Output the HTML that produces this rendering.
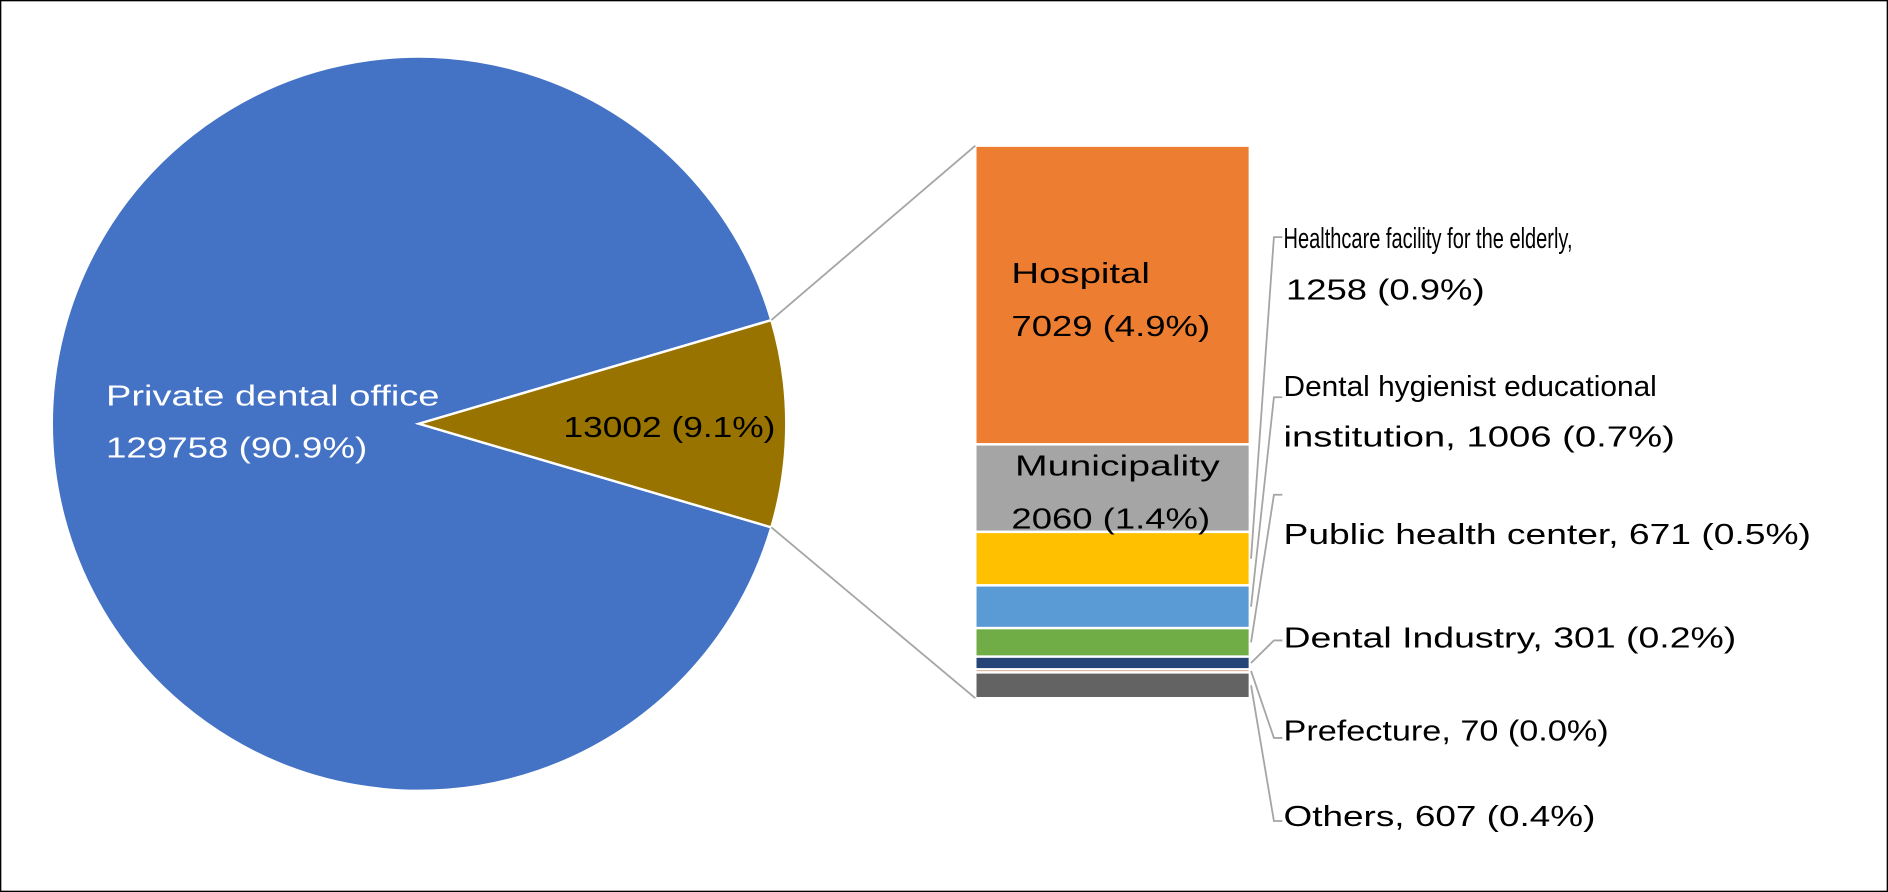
<!DOCTYPE html>
<html><head><meta charset="utf-8"><style>
html,body{margin:0;padding:0;background:#fff}
svg{display:block}
text{font-family:"Liberation Sans",sans-serif;font-size:24px}
</style></head><body>
<svg id="chart" width="1888" height="892" viewBox="0 0 1568 741" preserveAspectRatio="none" xmlns="http://www.w3.org/2000/svg">
<rect x="0.5" y="0.5" width="1567" height="740" fill="#fff" stroke="#000" stroke-width="1.2"/>
<g id="pie"></g>
<g id="bar"></g>
<g id="labels"></g>
</svg>
<script>
const pieCategories = ["Private dental office", "Other"];
const pieValues = [129758, 13002];
const pieLabels = [["Private dental office","129758 (90.9%)"],["13002 (9.1%)"]];
const barCategories = ["Hospital","Municipality","Healthcare facility for the elderly","Dental hygienist educational institution","Public health center","Dental Industry","Prefecture","Others"];
const barValues = [7029, 2060, 1258, 1006, 671, 301, 70, 607];
const barLabelLines = [["Hospital","7029 (4.9%)"],["Municipality","2060 (1.4%)"],["Healthcare facility for the elderly,"," 1258 (0.9%)"],["Dental hygienist educational","institution, 1006 (0.7%)"],["Public health center, 671 (0.5%)"],["Dental Industry, 301 (0.2%)"],["Prefecture, 70 (0.0%)"],["Others, 607 (0.4%)"]];

const NS="http://www.w3.org/2000/svg";
function mk(tag,attrs,parent){const e=document.createElementNS(NS,tag);for(const k in attrs)e.setAttribute(k,attrs[k]);parent.appendChild(e);return e;}
const cx=348,cy=352,r=305;
const pieColors=["#4472C4","#997300"];
const pieG=document.getElementById('pie');
const total=pieValues.reduce((a,b)=>a+b,0);
// small slice centered on the right
const smallAng=pieValues[1]/total*2*Math.PI;
const a0=-smallAng/2,a1=smallAng/2;
function pt(a){return [cx+r*Math.cos(a),cy+r*Math.sin(a)];}
const p0=pt(a0),p1=pt(a1);
let big=mk('path',{d:`M${cx},${cy} L${p1[0]},${p1[1]} A${r},${r} 0 1 1 ${p0[0]},${p0[1]} Z`,fill:pieColors[0],stroke:"#fff","stroke-width":2},pieG);


let sm=mk('path',{d:`M${cx},${cy} L${p0[0]},${p0[1]} A${r},${r} 0 0 1 ${p1[0]},${p1[1]} Z`,fill:pieColors[1],stroke:"#fff","stroke-width":2},pieG);



// bar
const bx=810,bw=228,btop=121,bbot=580;
const barColors=["#ED7D31","#A5A5A5","#FFC000","#5B9BD5","#70AD47","#264478","#9E480E","#636363"];
const barG=document.getElementById('bar');
const btotal=barValues.reduce((a,b)=>a+b,0);
const sc=(bbot-btop)/btotal;
let y=btop;const mids=[];
barValues.forEach((v,i)=>{const h=v*sc;
 const rc=mk('rect',{x:bx,y:y,width:bw,height:h,fill:barColors[i],stroke:"#fff","stroke-width":2},barG);
 
 
 mids.push(y+h/2);y+=h;});
// connector lines
const c1=mk('line',{x1:p0[0],y1:p0[1],x2:bx,y2:btop,stroke:"#A5A5A5","stroke-width":1.5},barG);


const c2=mk('line',{x1:p1[0],y1:p1[1],x2:bx,y2:bbot,stroke:"#A5A5A5","stroke-width":1.5},barG);



const L=document.getElementById('labels');
function txt(s,x,yy,fill,len,name){const t=mk('text',{x:x,y:yy,fill:fill,textLength:len,lengthAdjust:"spacingAndGlyphs"},L);t.textContent=s;
 
 return t;}
txt(pieLabels[0][0],88,337,"#fff",277,'label-private-dental-office');
txt(pieLabels[0][1],88,380,"#fff",217,'label-private-dental-office-value');
txt(pieLabels[1][0],468,363,"#000",176,'label-other-slice');
txt(barLabelLines[0][0],840,235,"#000",115,'label-hospital');
txt(barLabelLines[0][1],840,279,"#000",165,'label-hospital-value');
txt(barLabelLines[1][0],843,395,"#000",170,'label-municipality');
txt(barLabelLines[1][1],840,439,"#000",165,'label-municipality-value');
// outside labels with leaders
const brY=[null,null,197,330,411,532,613,682];
const lines=[null,null,[[206,240],[249,165]],[[329,310],[371,325]],[[452,438]],[[538,376]],[[615,270]],[[686,259]]];
for(let i=2;i<barValues.length;i++){
 const ld=mk('polyline',{points:`1039,${mids[i]} 1058,${brY[i]} 1065,${brY[i]}`,fill:"none",stroke:"#A5A5A5","stroke-width":1.5},L);
 
 
 barLabelLines[i].forEach((s,j)=>{const [yy,len]=lines[i][j];txt(s,j===1&&i===2?1068:1066,yy,"#000",len,'label-'+i+'-line-'+j);});
}
</script>
</body></html>
